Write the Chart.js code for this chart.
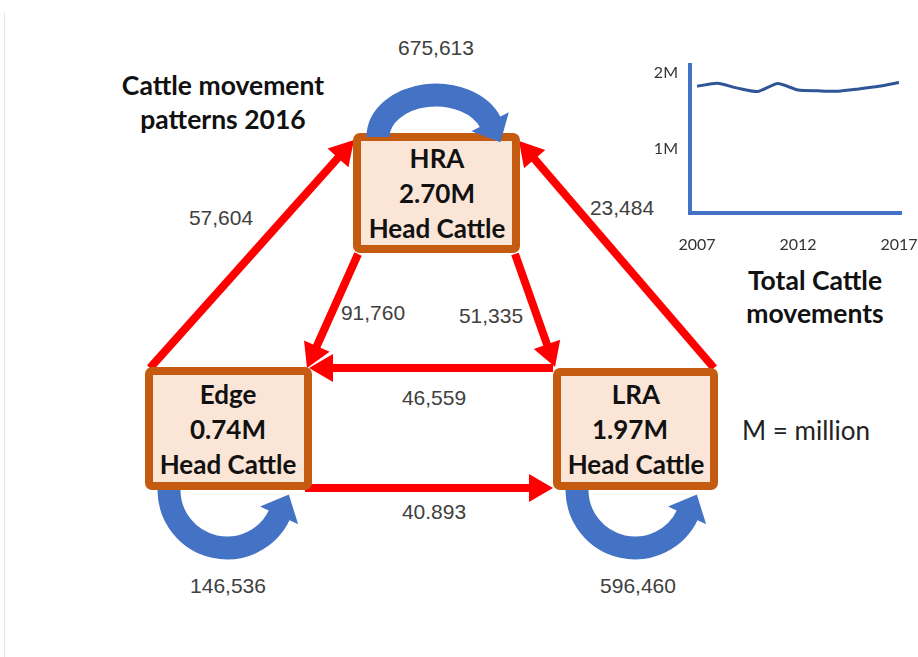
<!DOCTYPE html>
<html>
<head>
<meta charset="utf-8">
<script src="https://cdn.jsdelivr.net/npm/chart.js@4.4.1/dist/chart.umd.min.js"></script>
<style>
  body { margin: 0; background: #fff; }
  #page { position: relative; width: 918px; height: 657px; overflow: hidden; background: #fff; }
  #diagram { position: absolute; left: 0; top: 0; }
  #insetBox { position: absolute; left: 620px; top: 55px; width: 298px; height: 200px; }
  #edgeLine { position: absolute; left: 4px; top: 13px; width: 1px; height: 644px; background: #e4e4e4; }
</style>
</head>
<body>
<div id="page">
  <div id="edgeLine"></div>
  <svg id="diagram" width="918" height="657" xmlns="http://www.w3.org/2000/svg"></svg>
  <div id="insetBox"><canvas id="inset" width="298" height="200"></canvas></div>
</div>
<script>
// données du graphique encart (total des mouvements)
const years     = [2007, 2008, 2009, 2010, 2011, 2012, 2013, 2014, 2015, 2016, 2017];
const movements = [1820000, 1860000, 1795000, 1750000, 1855000, 1770000, 1760000, 1755000, 1785000, 1820000, 1870000];
const yTicks    = [1000000, 2000000];
const xTicks    = [2007, 2012, 2017];

// données du schéma
const regions    = ['HRA', 'Edge', 'LRA'];
const headCattle = ['2.70M', '0.74M', '1.97M'];
const withinMoves = ['675,613', '146,536', '596,460'];
const flowFrom   = ['Edge', 'LRA', 'HRA', 'HRA', 'LRA', 'Edge'];
const flowTo     = ['HRA', 'HRA', 'Edge', 'LRA', 'Edge', 'LRA'];
const flowLabels = ['57,604', '23,484', '91,760', '51,335', '46,559', '40.893'];

// mise en page du schéma
const boxes = {
    HRA:  { x: 357, y: 137, w: 159, h: 112, cx: 437, loop: 'up' },
    Edge: { x: 149, y: 371, w: 159, h: 115, cx: 228, loop: 'down' },
    LRA:  { x: 557, y: 372, w: 157, h: 114, cx: 636, loop: 'down' }
};
const flowGeom = [
    { a: [150, 368], b: [354, 140], lbl: [221, 217] },
    { a: [714, 368], b: [519, 141], lbl: [622, 207] },
    { a: [358, 254], b: [307, 368], lbl: [373, 312] },
    { a: [515, 254], b: [555, 367], lbl: [491, 315] },
    { a: [553, 368], b: [309, 368], lbl: [434, 397] },
    { a: [305, 488], b: [553, 488], lbl: [434, 511] }
];
const loopLabelPos = { HRA: [436, 47], Edge: [228, 585], LRA: [638, 585] };

const RED  = '#FF0000';
const BLUE = '#4472C4';
const BOX_LINE = '#C55A11';
const BOX_FILL = '#FBE5D6';
const NUM_FONT = '"Liberation Sans", Arial, sans-serif';
const CAL_FONT = 'Lato, "Open Sans", sans-serif';

const svg = document.getElementById('diagram');
let out = '';

function txt(x, y, s, size, weight, color, family) {
    return `<text x="${x}" y="${y}" font-family='${family}' font-size="${size}" font-weight="${weight}" fill="${color}" text-anchor="middle" dominant-baseline="central">${s}</text>`;
}

function arrowHead(tx, ty, dx, dy, len, half, color) {
    const bx = tx - dx * len, by = ty - dy * len;
    const px = -dy, py = dx;
    return `<polygon points="${tx},${ty} ${bx + px * half},${by + py * half} ${bx - px * half},${by - py * half}" fill="${color}"/>`;
}

// flèches rouges
flowGeom.forEach((g, i) => {
    const [x1, y1] = g.a, [x2, y2] = g.b;
    const L = Math.hypot(x2 - x1, y2 - y1);
    const dx = (x2 - x1) / L, dy = (y2 - y1) / L;
    const len = 24;
    out += `<line x1="${x1}" y1="${y1}" x2="${x2 - dx * (len - 2)}" y2="${y2 - dy * (len - 2)}" stroke="${RED}" stroke-width="8"/>`;
    out += arrowHead(x2, y2, dx, dy, len, 14, RED);
    out += txt(g.lbl[0], g.lbl[1], flowLabels[i], 21, 'normal', '#404040', NUM_FONT);
});

// boîtes
regions.forEach((r, i) => {
    const b = boxes[r];
    out += `<rect x="${b.x}" y="${b.y}" width="${b.w}" height="${b.h}" rx="3" fill="${BOX_FILL}" stroke="${BOX_LINE}" stroke-width="8"/>`;
    const my = b.y + b.h / 2;
    out += txt(b.cx, my - 35, r, 26, 'bold', '#111', CAL_FONT);
    out += txt(b.cx - (r === 'LRA' ? 6 : 0), my, headCattle[i], 26, 'bold', '#111', CAL_FONT);
    out += txt(b.cx, my + 35, 'Head Cattle', 26, 'bold', '#111', CAL_FONT);
});

// boucles bleues (mouvements internes)
regions.forEach((r, i) => {
    const b = boxes[r];
    let cx, cy, rx, ry, t0, t1, sweep;
    if (b.loop === 'up') {
        cx = 436; cy = 137; rx = 58; ry = 42; t0 = 180; t1 = 340; sweep = 1;
    } else {
        cx = b.cx - 1; cy = 490; rx = 58; ry = 58; t0 = 180; t1 = 25; sweep = 0;
    }
    const rad = Math.PI / 180;
    const sx = cx + rx * Math.cos(t0 * rad), sy = cy + ry * Math.sin(t0 * rad);
    const ex = cx + rx * Math.cos(t1 * rad), ey = cy + ry * Math.sin(t1 * rad);
    out += `<path d="M${sx},${sy} A${rx},${ry} 0 0 ${sweep} ${ex},${ey}" fill="none" stroke="${BLUE}" stroke-width="23"/>`;
    // tangente au point final
    let tx, ty;
    if (sweep === 1) { tx = -rx * Math.sin(t1 * rad); ty = ry * Math.cos(t1 * rad); }
    else { tx = rx * Math.sin(t1 * rad); ty = -ry * Math.cos(t1 * rad); }
    const n = Math.hypot(tx, ty); tx /= n; ty /= n;
    const hl = 22;
    out += arrowHead(ex + tx * hl, ey + ty * hl, tx, ty, hl + 1, 21, BLUE);
    const p = loopLabelPos[r];
    out += txt(p[0], p[1], withinMoves[i], 21, 'normal', '#404040', NUM_FONT);
});

// titres
out += txt(223, 85, 'Cattle movement', 26.5, 'bold', '#111', CAL_FONT);
out += txt(223, 119, 'patterns 2016', 26.5, 'bold', '#111', CAL_FONT);
out += txt(815, 280, 'Total Cattle', 26.5, 'bold', '#111', CAL_FONT);
out += txt(815, 313, 'movements', 26.5, 'bold', '#111', CAL_FONT);
out += txt(806, 430, 'M = million', 26, 'normal', '#222', CAL_FONT);

svg.innerHTML = out;

// graphique encart
new Chart(document.getElementById('inset').getContext('2d'), {
    type: 'line',
    data: {
        datasets: [{
            data: years.map((y, i) => ({ x: y, y: movements[i] })),
            borderColor: '#2F5597',
            borderWidth: 3,
            pointRadius: 0,
            tension: 0.2
        }]
    },
    options: {
        responsive: false,
        animation: false,
        plugins: { legend: { display: false }, tooltip: { enabled: false } },
        layout: { padding: { top: 10, right: 17, left: 0, bottom: 0 } },
        scales: {
            x: {
                type: 'linear',
                min: 2006.65,
                max: 2017.1,
                afterBuildTicks: s => { s.ticks = xTicks.map(v => ({ value: v })); },
                afterFit: s => { s.height = 42; s.paddingLeft = 0; s.paddingRight = 0; },
                grid: { display: false, drawTicks: false },
                border: { color: '#4472C4', width: 4 },
                ticks: { color: '#333', padding: 22, font: { family: 'Lato', size: 16 }, callback: v => String(v) }
            },
            y: {
                min: 150000,
                max: 2100000,
                afterBuildTicks: s => { s.ticks = yTicks.map(v => ({ value: v })); },
                afterFit: s => { s.width = 70; s.paddingTop = 0; s.paddingBottom = 0; },
                grid: { display: false, drawTicks: false },
                border: { color: '#4472C4', width: 4 },
                ticks: { color: '#333', padding: 12, font: { family: 'Lato', size: 16 }, callback: v => (v / 1000000) + 'M' }
            }
        }
    }
});
</script>
</body>
</html>
